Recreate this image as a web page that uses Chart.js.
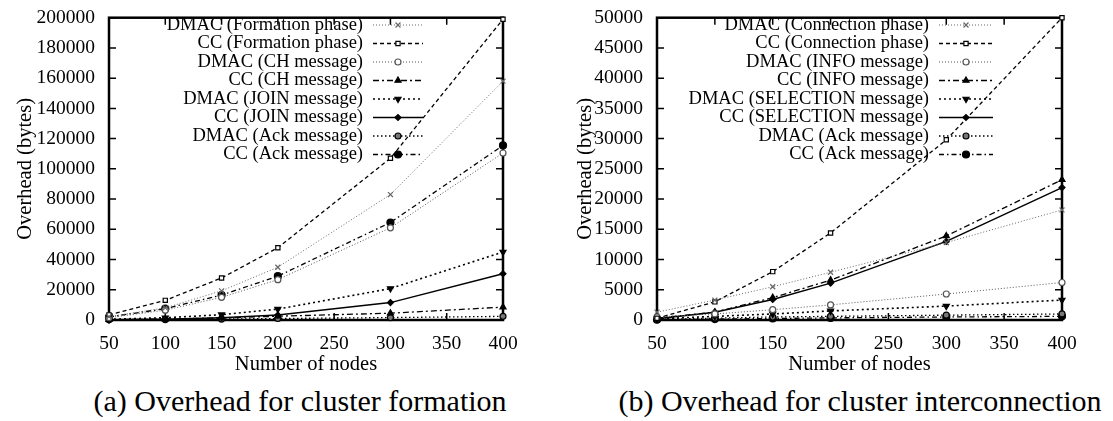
<!DOCTYPE html>
<html>
<head>
<meta charset="utf-8">
<script src="https://cdn.jsdelivr.net/npm/chart.js@4.4.1/dist/chart.umd.min.js"></script>
<style>
  body { margin: 0; background: #fff; }
  #wrap { position: relative; width: 1113px; height: 421px; overflow: hidden; font-family: "Liberation Serif", "Times New Roman", serif; }
  canvas { position: absolute; top: 0; }
  .caption { position: absolute; top: 384px; font-size: 30px; line-height: 34px; white-space: nowrap; transform: translateX(-50%); color: #000; }
</style>
</head>
<body>
<div id="wrap">
  <canvas id="chart-a" width="556" height="380" style="left:0"></canvas>
  <canvas id="chart-b" width="557" height="380" style="left:556px"></canvas>
  <div class="caption" style="left:300px">(a) Overhead for cluster formation</div>
  <div class="caption" style="left:860px">(b) Overhead for cluster interconnection</div>
</div>
<script>
// --- Data ---
const nodes = [50, 100, 150, 200, 300, 400];

// (a) cluster formation
const labelsA = [
  'DMAC (Formation phase)', 'CC (Formation phase)',
  'DMAC (CH message)', 'CC (CH message)',
  'DMAC (JOIN message)', 'CC (JOIN message)',
  'DMAC (Ack message)', 'CC (Ack message)'
];
const dmacFormation = [2200, 8000, 19300, 34900, 83000, 158000];
const ccFormation   = [3400, 13000, 27800, 47800, 107000, 199000];
const dmacCh        = [1600, 6500, 15000, 26700, 61000, 110500];
const ccCh          = [200, 600, 1400, 2500, 4500, 8500];
const dmacJoin      = [500, 1500, 3500, 7200, 20800, 45000];
const ccJoin        = [100, 500, 1500, 3300, 11500, 30600];
const dmacAckA      = [100, 300, 600, 1000, 1600, 2400];
const ccAckA        = [2000, 7500, 16500, 29000, 64500, 115500];

// (b) cluster interconnection
const labelsB = [
  'DMAC (Connection phase)', 'CC (Connection phase)',
  'DMAC (INFO message)', 'CC (INFO message)',
  'DMAC (SELECTION message)', 'CC (SELECTION message)',
  'DMAC (Ack message)', 'CC (Ack message)'
];
const dmacConnection = [1300, 3300, 5500, 7900, 12800, 18200];
const ccConnection   = [300, 3000, 8000, 14400, 29800, 50000];
const dmacInfo       = [500, 1000, 1700, 2500, 4300, 6200];
const ccInfo         = [300, 1300, 3700, 6600, 13900, 23200];
const dmacSelection  = [200, 600, 1000, 1500, 2300, 3300];
const ccSelection    = [200, 1300, 3400, 6100, 13000, 21900];
const dmacAckB       = [100, 300, 500, 600, 800, 1000];
const ccAckB         = [50, 150, 250, 350, 500, 600];

// gnuplot-like line types, same order in both plots
const styles = [
  { color: '#666', width: 1,   dash: [1, 2],         point: 'crossRot', radius: 3.5, fill: '#666' },
  { color: '#000', width: 1.3, dash: [4, 3],         point: 'rect',     radius: 3,   fill: '#fff' },
  { color: '#555', width: 1,   dash: [1, 2],         point: 'circle',   radius: 3,   fill: '#fff' },
  { color: '#000', width: 1.3, dash: [6, 3, 2, 3],   point: 'triangle', radius: 3.5, fill: '#000' },
  { color: '#000', width: 1.6, dash: [2, 3],         point: 'triangle', radius: 3.5, fill: '#000', rotation: 180 },
  { color: '#000', width: 1.5, dash: [],             point: 'rectRot',  radius: 3,   fill: '#000' },
  { color: '#000', width: 1.3, dash: [1.5, 2.5],     point: 'circle',   radius: 3,   fill: '#777' },
  { color: '#000', width: 1.3, dash: [5, 3, 1.5, 3], point: 'circle',   radius: 3.5, fill: '#000' }
];

Chart.defaults.font.family = '"Liberation Serif", "Times New Roman", serif';
Chart.defaults.font.size = 19.5;
Chart.defaults.color = '#000';

function makeDatasets(labels, series) {
  return labels.map((label, i) => {
    const s = styles[i];
    return {
      label: label,
      data: nodes.map((x, j) => ({ x: x, y: series[i][j] })),
      borderColor: s.color,
      borderWidth: s.width,
      borderDash: s.dash,
      pointStyle: s.point,
      pointRotation: s.rotation || 0,
      pointRadius: s.radius,
      pointBorderWidth: 1.2,
      pointBorderColor: s.color,
      pointBackgroundColor: s.fill,
      fill: false,
      tension: 0,
      clip: false
    };
  });
}

// Frame with inward ticks on all four sides
const framePlugin = {
  id: 'gpFrame',
  beforeDatasetsDraw(chart) {
    const { ctx, chartArea: a, scales } = chart;
    const len = 7;
    ctx.save();
    ctx.strokeStyle = '#000';
    ctx.lineWidth = 1.5;
    ctx.beginPath();
    scales.x.ticks.forEach(t => {
      const px = scales.x.getPixelForValue(t.value);
      ctx.moveTo(px, a.bottom); ctx.lineTo(px, a.bottom - len);
      ctx.moveTo(px, a.top); ctx.lineTo(px, a.top + len);
    });
    scales.y.ticks.forEach(t => {
      const py = scales.y.getPixelForValue(t.value);
      ctx.moveTo(a.left, py); ctx.lineTo(a.left + len, py);
      ctx.moveTo(a.right, py); ctx.lineTo(a.right - len, py);
    });
    ctx.stroke();
    ctx.lineWidth = 2.5;
    ctx.strokeRect(a.left, a.top, a.right - a.left, a.bottom - a.top);
    ctx.restore();
  }
};

// Key drawn like gnuplot: right-aligned text, sample line on its right
const keyPlugin = {
  id: 'gpKey',
  afterDatasetsDraw(chart, args, opts) {
    const { ctx } = chart;
    ctx.save();
    ctx.font = '18.5px "Liberation Serif", "Times New Roman", serif';
    ctx.textAlign = 'right';
    ctx.textBaseline = 'middle';
    chart.data.datasets.forEach((ds, i) => {
      const y = opts.top + i * opts.step;
      ctx.fillStyle = '#000';
      ctx.fillText(ds.label, opts.textRight, y);
      ctx.strokeStyle = ds.borderColor;
      ctx.lineWidth = ds.borderWidth;
      ctx.setLineDash(ds.borderDash);
      ctx.beginPath();
      ctx.moveTo(opts.x1, y);
      ctx.lineTo(opts.x2, y);
      ctx.stroke();
      ctx.setLineDash([]);
      ctx.fillStyle = ds.pointBackgroundColor;
      ctx.strokeStyle = ds.pointBorderColor;
      ctx.lineWidth = ds.pointBorderWidth;
      Chart.helpers.drawPoint(ctx, {
        pointStyle: ds.pointStyle, rotation: ds.pointRotation,
        radius: ds.pointRadius, borderWidth: ds.pointBorderWidth
      }, (opts.x1 + opts.x2) / 2, y);
    });
    ctx.restore();
  }
};

function makeChart(id, labels, series, yMax, yStep, yWidth, titlePad, padRight, key) {
  return new Chart(document.getElementById(id), {
    type: 'line',
    data: { datasets: makeDatasets(labels, series) },
    options: {
      responsive: false,
      animation: false,
      devicePixelRatio: 1,
      layout: { padding: { top: 13, right: padRight, left: 0, bottom: 0 } },
      plugins: { legend: { display: false }, tooltip: { enabled: false }, gpKey: key },
      scales: {
        x: {
          type: 'linear', min: 50, max: 400,
          ticks: { stepSize: 50, padding: 4, maxRotation: 0, callback: v => String(v) },
          grid: { display: false }, border: { display: false },
          title: { display: true, text: 'Number of nodes', font: { size: 20.5 }, padding: { top: 0, bottom: 3 } },
          afterFit: s => { s.height = 60; }
        },
        y: {
          min: 0, max: yMax,
          ticks: { stepSize: yStep, padding: 6, callback: v => String(v) },
          grid: { display: false }, border: { display: false },
          title: { display: true, text: 'Overhead (bytes)', font: { size: 20.5 }, padding: { top: titlePad, bottom: 0 } },
          afterFit: s => { s.width = yWidth; }
        }
      }
    },
    plugins: [framePlugin, keyPlugin]
  });
}

makeChart('chart-a', labelsA,
  [dmacFormation, ccFormation, dmacCh, ccCh, dmacJoin, ccJoin, dmacAckA, ccAckA],
  200000, 20000, 109, 13, 53,
  { top: 25, step: 18.5, textRight: 363, x1: 373, x2: 423 });

makeChart('chart-b', labelsB,
  [dmacConnection, ccConnection, dmacInfo, ccInfo, dmacSelection, ccSelection, dmacAckB, ccAckB],
  50000, 5000, 101, 17, 51,
  { top: 25, step: 18.5, textRight: 373, x1: 383, x2: 437 });
</script>
</body>
</html>
